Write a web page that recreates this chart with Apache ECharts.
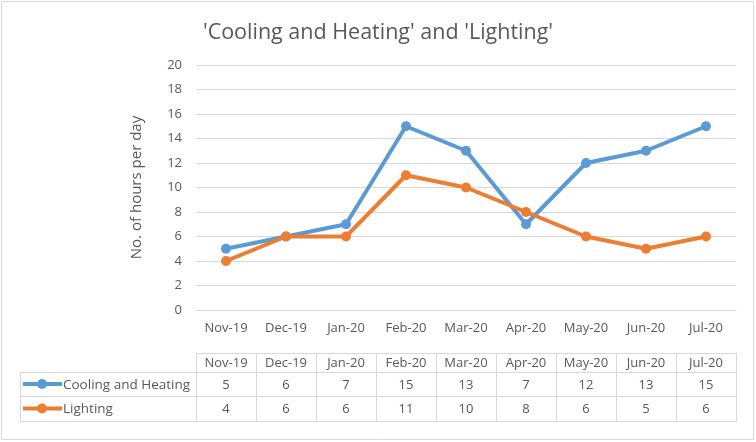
<!DOCTYPE html>
<html><head><meta charset="utf-8">
<script src="https://cdn.jsdelivr.net/npm/echarts@6/dist/echarts.min.js"></script>
<style>html,body{margin:0;padding:0;background:#fff}#c{width:756px;height:442px}</style>
</head><body><div id="c"></div>
<script>
const categories = ['Nov-19','Dec-19','Jan-20','Feb-20','Mar-20','Apr-20','May-20','Jun-20','Jul-20'];
const coolingHeating = [5,6,7,15,13,7,12,13,15];
const lighting = [4,6,6,11,10,8,6,5,6];
const seriesNames = ['Cooling and Heating','Lighting'];
const yTicks = {min:0,max:20,interval:2};
const colors = ['#5b9bd5','#ed7d31'];
const FONT = '"Open Sans", Carlito, sans-serif';
const textColor = '#595959';

const chart = echarts.init(document.getElementById('c'));
const gridL=196, gridR=20, gridT=65, gridB=132;
chart.setOption({
  animation:false,
  title:{text:"'Cooling and Heating' and 'Lighting'",left:'center',top:17,
    textStyle:{fontFamily:FONT,fontSize:21.5,fontWeight:'normal',color:textColor}},
  grid:{left:gridL,right:gridR,top:gridT,bottom:gridB},
  xAxis:{type:'category',data:categories,boundaryGap:true,
    axisLine:{show:true,lineStyle:{color:'#d9d9d9'}},axisTick:{show:false},
    axisLabel:{color:textColor,fontSize:13,fontFamily:FONT,margin:12}},
  yAxis:{type:'value',min:yTicks.min,max:yTicks.max,interval:yTicks.interval,
    name:'No. of hours per day',nameLocation:'middle',nameGap:52,nameRotate:90,
    nameTextStyle:{color:textColor,fontSize:15,fontFamily:FONT},
    axisLine:{show:false},axisTick:{show:false},
    splitLine:{lineStyle:{color:'#d9d9d9',width:1}},
    axisLabel:{color:textColor,fontSize:13,fontFamily:FONT,margin:14}},
  series:[
    {name:seriesNames[0],type:'line',data:coolingHeating,symbol:'circle',symbolSize:10,
      lineStyle:{color:colors[0],width:4},itemStyle:{color:colors[0]}},
    {name:seriesNames[1],type:'line',data:lighting,symbol:'circle',symbolSize:10,
      lineStyle:{color:colors[1],width:4},itemStyle:{color:colors[1]}}
  ]
});

// data table beneath the chart
const rows = [coolingHeating, lighting];
const yHead=353, yR1=372, yR2=396, yEnd=421, tableL=20;
const xs = categories.map((c,i)=>chart.convertToPixel({xAxisIndex:0},i));
const colW = xs.length>1 ? xs[1]-xs[0] : 60;
const colL = xs[0]-colW/2, colR = xs[xs.length-1]+colW/2;
const lineStyle={stroke:'#d9d9d9',lineWidth:1};
const g=[];
const hl=(x1,x2,y)=>g.push({type:'line',shape:{x1,y1:y+0.5,x2,y2:y+0.5},style:lineStyle,silent:true});
const vl=(x,y1,y2)=>g.push({type:'line',shape:{x1:x+0.5,y1,x2:x+0.5,y2},style:lineStyle,silent:true});
hl(colL,colR,yHead); hl(tableL,colR,yR1); hl(tableL,colR,yR2); hl(tableL,colR,yEnd);
vl(tableL,yR1,yEnd+1);
for(let i=0;i<=categories.length;i++) vl(colL+i*colW,yHead,yEnd+1);
const txt=(x,y,t,align,fs)=>g.push({type:'text',x,y,silent:true,style:{text:String(t),fill:textColor,font:(fs||13)+'px '+FONT,textAlign:align||'center',textVerticalAlign:'middle'}});
categories.forEach((c,i)=>txt(xs[i],(yHead+yR1)/2+1,c));
const rowMid=[(yR1+yR2)/2+1,(yR2+yEnd)/2+1];
rows.forEach((r,ri)=>{
  r.forEach((v,i)=>txt(xs[i],rowMid[ri],v));
  g.push({type:'line',shape:{x1:23,y1:rowMid[ri]-1,x2:62,y2:rowMid[ri]-1},style:{stroke:colors[ri],lineWidth:4},silent:true});
  g.push({type:'circle',shape:{cx:42,cy:rowMid[ri]-1,r:5},style:{fill:colors[ri]},silent:true});
  txt(63,rowMid[ri],seriesNames[ri],'left',13.5);
});
g.push({type:'rect',shape:{x:1.5,y:1.5,width:752,height:438},style:{fill:'none',stroke:'#d9d9d9',lineWidth:1},silent:true});
chart.setOption({graphic:g});
</script></body></html>
